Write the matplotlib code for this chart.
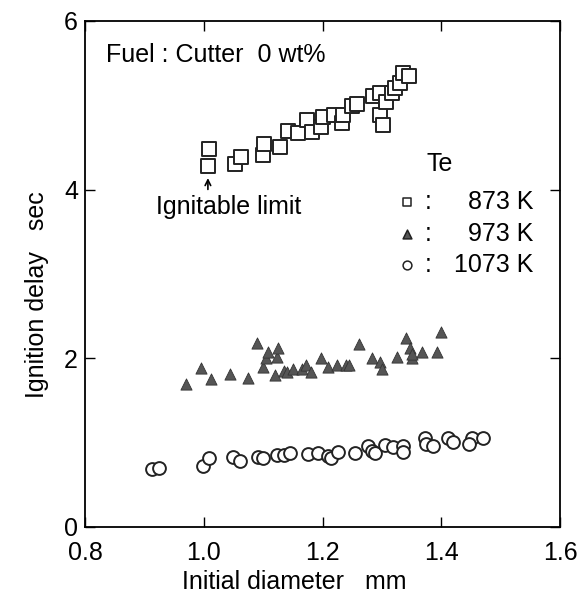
import matplotlib.pyplot as plt

plt.rcParams['font.family'] = ['Liberation Sans', 'DejaVu Sans']

# Te = 873 K (open squares)
d_873 = [1.007, 1.009, 1.053, 1.063, 1.100, 1.101, 1.128, 1.142, 1.159, 1.174,
         1.182, 1.197, 1.201, 1.219, 1.233, 1.234, 1.250, 1.258, 1.285, 1.297,
         1.297, 1.302, 1.307, 1.317, 1.322, 1.330, 1.336, 1.346]
t_873 = [4.28, 4.48, 4.30, 4.39, 4.41, 4.54, 4.51, 4.70, 4.67, 4.83,
         4.68, 4.74, 4.86, 4.89, 4.79, 4.89, 4.99, 5.01, 5.11, 5.15,
         4.89, 4.77, 5.04, 5.15, 5.20, 5.26, 5.38, 5.35]

# Te = 973 K (filled triangles)
d_973 = [0.97, 0.995, 1.012, 1.045, 1.075, 1.09, 1.10, 1.105, 1.108, 1.12,
         1.123, 1.125, 1.135, 1.14, 1.15, 1.165, 1.172, 1.18, 1.197, 1.21,
         1.225, 1.24, 1.245, 1.262, 1.283, 1.296, 1.30, 1.325, 1.34, 1.348,
         1.35, 1.35, 1.368, 1.393, 1.40]
t_973 = [1.70, 1.89, 1.75, 1.82, 1.77, 2.18, 1.90, 2.00, 2.07, 1.80,
         2.02, 2.12, 1.85, 1.84, 1.87, 1.87, 1.92, 1.84, 2.00, 1.90,
         1.92, 1.92, 1.92, 2.17, 2.00, 1.96, 1.87, 2.02, 2.24, 2.12,
         2.00, 2.05, 2.07, 2.07, 2.31]

# Te = 1073 K (open circles)
d_1073 = [0.913, 0.925, 0.999, 1.009, 1.049, 1.061, 1.091, 1.099, 1.123, 1.135,
          1.145, 1.175, 1.192, 1.209, 1.214, 1.226, 1.254, 1.276, 1.283, 1.288,
          1.305, 1.319, 1.335, 1.335, 1.372, 1.374, 1.386, 1.411, 1.419, 1.451,
          1.447, 1.470]
t_1073 = [0.69, 0.70, 0.72, 0.82, 0.83, 0.78, 0.83, 0.82, 0.85, 0.85,
          0.88, 0.87, 0.88, 0.84, 0.82, 0.89, 0.88, 0.96, 0.90, 0.88,
          0.97, 0.95, 0.96, 0.89, 1.06, 0.99, 0.96, 1.05, 1.01, 1.05,
          0.99, 1.06]

# legend rows
leg_mk = ['s', '^', 'o']
leg_fc = ['white', '#555555', 'white']
leg_num = ['873 K', '973 K', '1073 K']

fs = 18

fig = plt.figure(figsize=(5.88, 5.97), dpi=100)
ax = fig.add_axes([85 / 588, 70 / 597, 475 / 588, 506 / 597])

ax.scatter(d_1073, t_1073, s=85, marker='o', facecolors='white',
           edgecolors='#222222', linewidths=1.4, zorder=3)
ax.scatter(d_973, t_973, s=65, marker='^', facecolors='#555555',
           edgecolors='#333333', linewidths=0.6, zorder=3)
ax.scatter(d_873, t_873, s=95, marker='s', facecolors='white',
           edgecolors='#222222', linewidths=1.4, zorder=3)

ax.set_xlim(0.8, 1.6)
ax.set_ylim(0, 6)
ax.set_xticks([0.8, 1.0, 1.2, 1.4, 1.6])
ax.set_xticklabels(['0.8', '1.0', '1.2', '1.4', '1.6'])
ax.set_yticks([0, 2, 4, 6])
ax.tick_params(direction='in', length=7, width=1.0, labelsize=fs,
               top=True, right=True)
ax.tick_params(axis='x', pad=10)
ax.tick_params(axis='y', pad=5)
for s in ax.spines.values():
    s.set_linewidth(1.3)

ax.set_xlabel('Initial diameter   mm', fontsize=fs)
ax.xaxis.set_label_coords(0.44, -0.085)
ax.set_ylabel('Ignition delay   sec', fontsize=fs)
ax.yaxis.set_label_coords(-0.075, 0.46)

ax.text(0.835, 5.6, 'Fuel : Cutter  0 wt%', fontsize=fs, va='center')

ax.text(0.92, 3.8, 'Ignitable limit', fontsize=fs, va='center')
ax.annotate('', xy=(1.007, 4.17), xytext=(1.007, 3.97),
            arrowprops=dict(arrowstyle='->', color='black', lw=1.2))

# legend drawn as text
ax.text(1.376, 4.3, 'Te', fontsize=fs, va='center')
leg_y = [3.85, 3.47, 3.11]
for yy, num, mk, fc in zip(leg_y, leg_num, leg_mk, leg_fc):
    ax.scatter([1.342], [yy], s=40, marker=mk, facecolors=fc,
               edgecolors='#222222', linewidths=1.1, zorder=3)
    ax.text(1.372, yy, ':', fontsize=fs, va='center')
    ax.text(1.555, yy, num, fontsize=fs, va='center', ha='right')

fig.savefig('out.png', dpi=100)
